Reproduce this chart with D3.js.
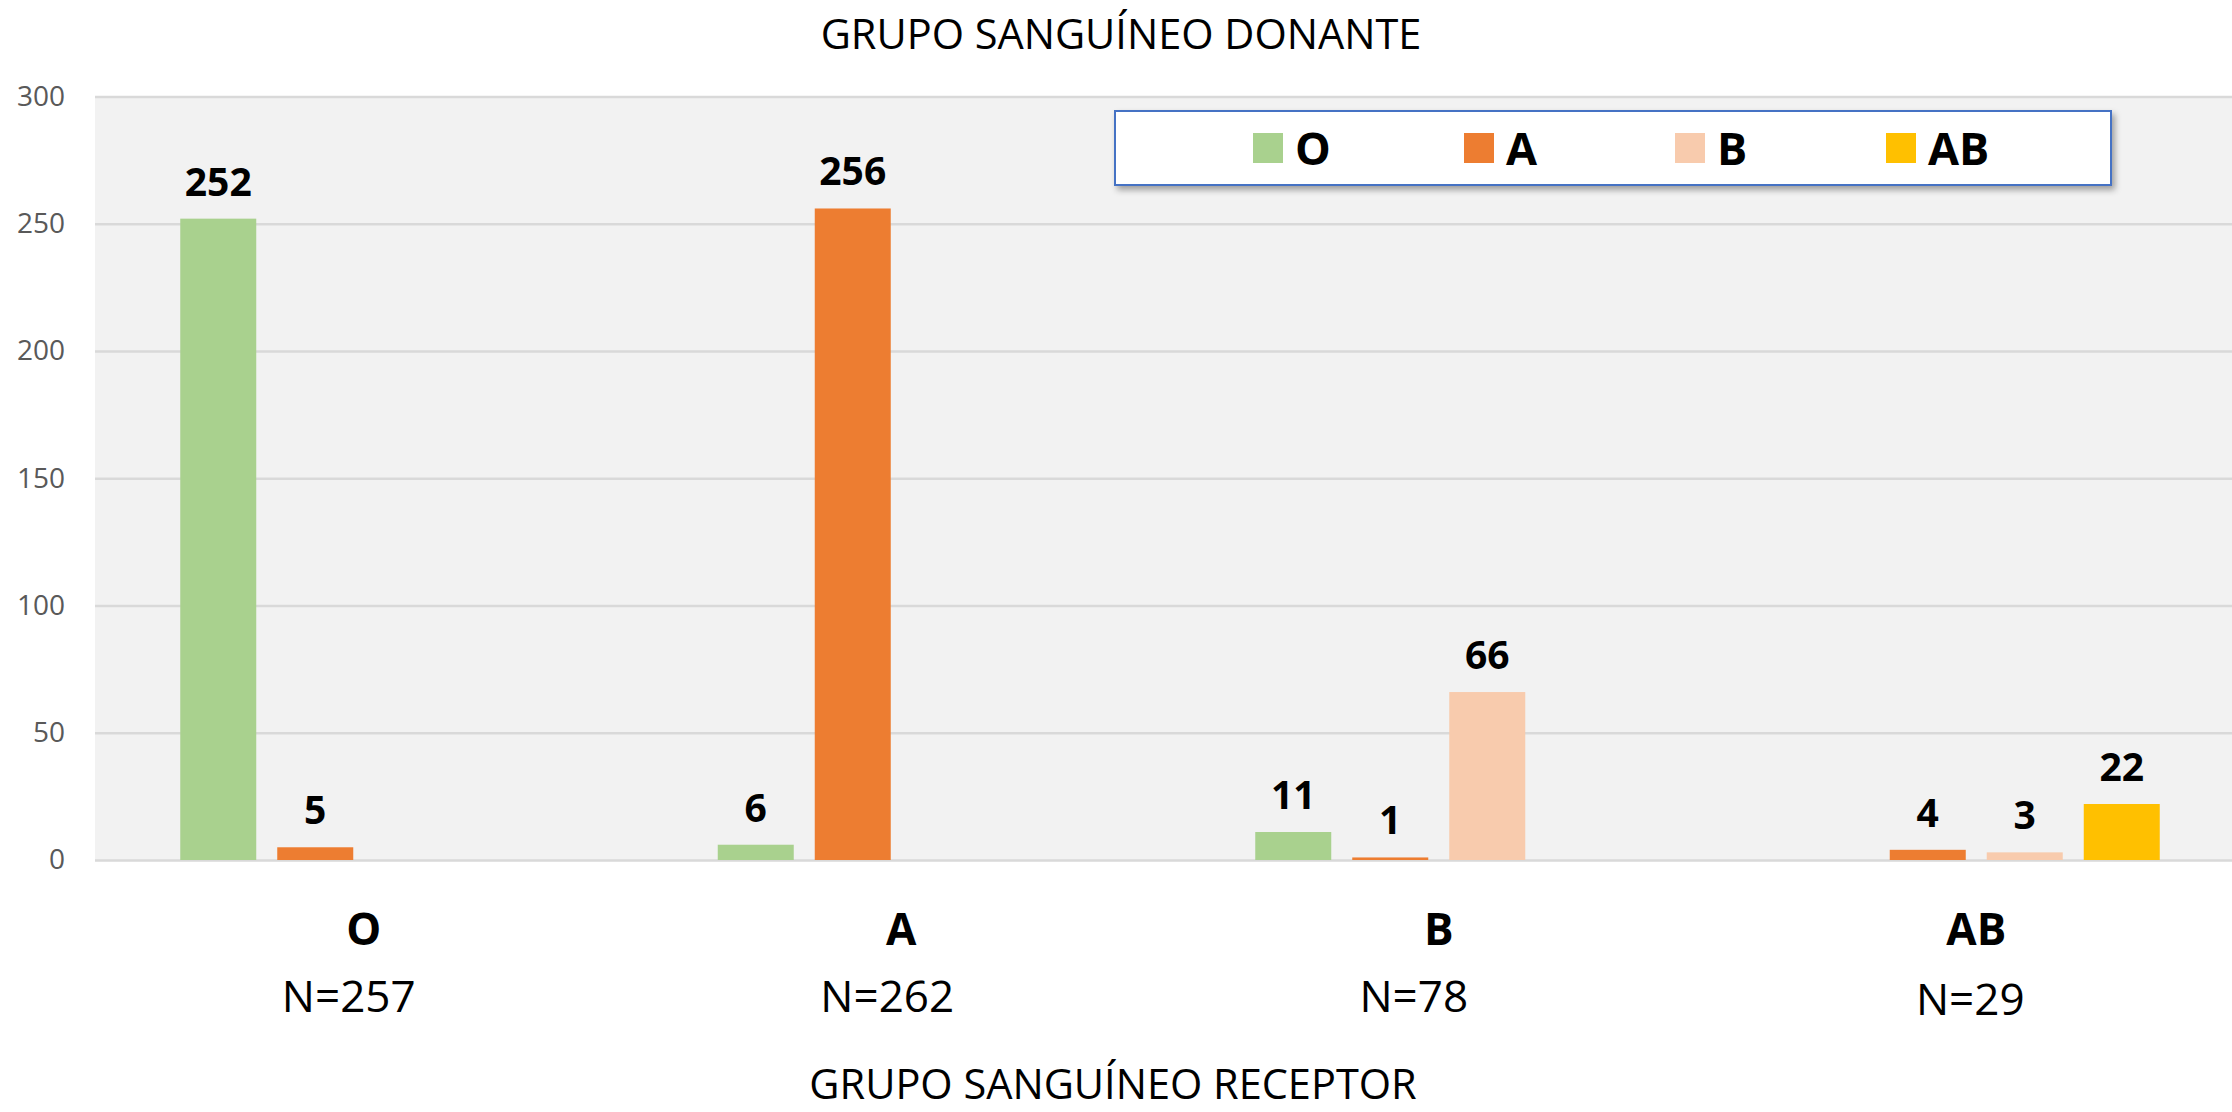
<!DOCTYPE html>
<html>
<head>
<meta charset="utf-8">
<script src="https://cdn.jsdelivr.net/npm/d3@7"></script>
<style>
  body { margin: 0; background: #fff; }
  svg text { font-family: "Open Sans", sans-serif; }
</style>
</head>
<body>
<div id="chart"></div>
<script>
// receptor groups (x axis) and sample sizes
var receptors = ["O", "A", "B", "AB"];
var receptorN = ["N=257", "N=262", "N=78", "N=29"];

// donor groups (series)
var donors = ["O", "A", "B", "AB"];
var donorO  = [252, 6, 11, 0];
var donorA  = [5, 256, 1, 4];
var donorB  = [0, 0, 66, 3];
var donorAB = [0, 0, 0, 22];
var donorColors = ["#A9D18E", "#ED7D31", "#F8CBAD", "#FFC000"];

var yTicks = [0, 50, 100, 150, 200, 250, 300];

var width = 2232, height = 1112;
var margin = {top: 96.5, right: -13, bottom: 252, left: 95};

// the N= text boxes sit a little left of the category centre in the original
var nShift = [-15, -14, -25, -6];

var svg = d3.select("#chart")
  .append("svg")
    .attr("width", width)
    .attr("height", height);

var series = [donorO, donorA, donorB, donorAB];

// scales
var x0 = d3.scaleBand()
  .domain(receptors)
  .range([margin.left, width - margin.right]);

var x1 = d3.scaleBand()
  .domain(donors)
  .range([85.25, x0.bandwidth() - 85.25])
  .paddingInner(0.2165);

var y = d3.scaleLinear()
  .domain([0, 300])
  .range([height - margin.bottom, margin.top]);

// plot background
svg.append("rect")
  .attr("x", margin.left)
  .attr("y", y(300))
  .attr("width", width - margin.left - margin.right)
  .attr("height", y(0) - y(300))
  .attr("fill", "#F2F2F2");

// gridlines + y labels
var yAxis = svg.append("g")
  .attr("transform", "translate(" + margin.left + ",0)")
  .call(d3.axisLeft(y).tickValues(yTicks)
    .tickSize(-(width - margin.left - margin.right))
    .tickPadding(30));
yAxis.select(".domain").remove();
yAxis.selectAll("line").attr("stroke", "#D9D9D9").attr("stroke-width", 2.5);
yAxis.selectAll("text")
  .attr("fill", "#595959")
  .style("font-size", "28px");

// bars
var groups = svg.append("g").selectAll("g")
  .data(receptors)
  .join("g")
    .attr("transform", function(d) { return "translate(" + x0(d) + ",0)"; });

groups.selectAll("rect")
  .data(function(d, i) {
    return donors.map(function(k, j) { return {key: k, value: series[j][i], color: donorColors[j]}; });
  })
  .join("rect")
    .attr("x", function(d) { return x1(d.key); })
    .attr("y", function(d) { return y(d.value); })
    .attr("width", x1.bandwidth())
    .attr("height", function(d) { return y(0) - y(d.value); })
    .attr("fill", function(d) { return d.color; });

// value labels (skip zeros)
groups.selectAll("text.val")
  .data(function(d, i) {
    return donors.map(function(k, j) { return {key: k, value: series[j][i]}; })
      .filter(function(d) { return d.value > 0; });
  })
  .join("text")
    .attr("class", "val")
    .attr("x", function(d) { return x1(d.key) + x1.bandwidth() / 2; })
    .attr("y", function(d) { return y(d.value) - 23; })
    .attr("text-anchor", "middle")
    .style("font-size", "39px")
    .style("font-weight", "bold")
    .text(function(d) { return d.value; });

// category labels
var cats = svg.append("g");
cats.selectAll("text.cat")
  .data(receptors)
  .join("text")
    .attr("class", "cat")
    .attr("x", function(d) { return x0(d) + x0.bandwidth() / 2; })
    .attr("y", 945)
    .attr("text-anchor", "middle")
    .style("font-size", "44px")
    .style("font-weight", "bold")
    .text(function(d) { return d; });

cats.selectAll("text.n")
  .data(receptorN)
  .join("text")
    .attr("class", "n")
    .attr("x", function(d, i) { return x0(receptors[i]) + x0.bandwidth() / 2 + nShift[i]; })
    .attr("y", function(d, i) { return i === 3 ? 1015 : 1012; })
    .attr("text-anchor", "middle")
    .style("font-size", "44px")
    .text(function(d) { return d; });

// titles
svg.append("text")
  .attr("x", 1121).attr("y", 49)
  .attr("text-anchor", "middle")
  .style("font-size", "41.5px")
  .text("GRUPO SANGUÍNEO DONANTE");

svg.append("text")
  .attr("x", 1113).attr("y", 1099)
  .attr("text-anchor", "middle")
  .style("font-size", "41.5px")
  .text("GRUPO SANGUÍNEO RECEPTOR");

// legend
var defs = svg.append("defs");
var f = defs.append("filter").attr("id", "shadow")
  .attr("x", "-5%").attr("y", "-20%").attr("width", "110%").attr("height", "150%");
f.append("feDropShadow")
  .attr("dx", 3).attr("dy", 4).attr("stdDeviation", 3)
  .attr("flood-color", "#000").attr("flood-opacity", 0.35);

var legend = svg.append("g");
legend.append("rect")
  .attr("x", 1115).attr("y", 111)
  .attr("width", 996).attr("height", 74)
  .attr("fill", "#fff")
  .attr("stroke", "#4472C4")
  .attr("stroke-width", 2)
  .attr("filter", "url(#shadow)");

var lx = d3.scaleBand().domain(donors).range([1253, 2097]);

var items = legend.selectAll("g.item")
  .data(donors)
  .join("g")
    .attr("class", "item")
    .attr("transform", function(d) { return "translate(" + lx(d) + ",133)"; });

items.append("rect")
  .attr("width", 30).attr("height", 30)
  .attr("fill", function(d, i) { return donorColors[i]; });

items.append("text")
  .attr("x", 42).attr("y", 32)
  .style("font-size", "45px")
  .style("font-weight", "bold")
  .text(function(d) { return d; });
</script>
</body>
</html>
